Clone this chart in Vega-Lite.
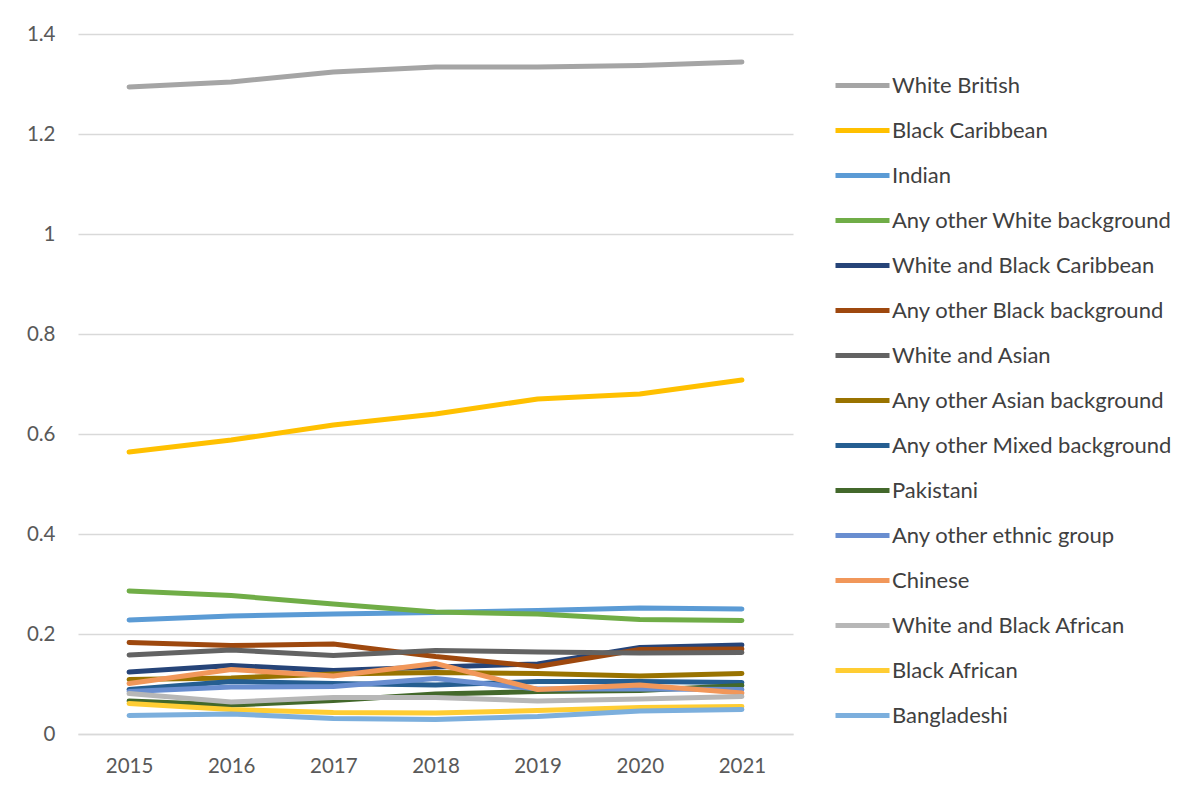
{
  "$schema": "https://vega.github.io/schema/vega-lite/v6.json",
  "autosize": "none",
  "width": 715,
  "height": 700,
  "padding": {"left": 78, "top": 34, "right": 404, "bottom": 58},
  "background": "white",
  "config": {
    "view": {"stroke": null},
    "font": "Lato",
    "axis": {"labelFont": "Lato", "labelColor": "#595959", "labelFontSize": 20.5, "ticks": false, "title": null}
  },
  "data": {"values": [
    {"s": "White British", "year": "2015", "v": 1.294},
    {"s": "White British", "year": "2016", "v": 1.304},
    {"s": "White British", "year": "2017", "v": 1.324},
    {"s": "White British", "year": "2018", "v": 1.334},
    {"s": "White British", "year": "2019", "v": 1.334},
    {"s": "White British", "year": "2020", "v": 1.337},
    {"s": "White British", "year": "2021", "v": 1.344},
    {"s": "Black Caribbean", "year": "2015", "v": 0.564},
    {"s": "Black Caribbean", "year": "2016", "v": 0.588},
    {"s": "Black Caribbean", "year": "2017", "v": 0.618},
    {"s": "Black Caribbean", "year": "2018", "v": 0.640},
    {"s": "Black Caribbean", "year": "2019", "v": 0.670},
    {"s": "Black Caribbean", "year": "2020", "v": 0.680},
    {"s": "Black Caribbean", "year": "2021", "v": 0.708},
    {"s": "Indian", "year": "2015", "v": 0.228},
    {"s": "Indian", "year": "2016", "v": 0.236},
    {"s": "Indian", "year": "2017", "v": 0.240},
    {"s": "Indian", "year": "2018", "v": 0.243},
    {"s": "Indian", "year": "2019", "v": 0.247},
    {"s": "Indian", "year": "2020", "v": 0.252},
    {"s": "Indian", "year": "2021", "v": 0.250},
    {"s": "Any other White background", "year": "2015", "v": 0.286},
    {"s": "Any other White background", "year": "2016", "v": 0.277},
    {"s": "Any other White background", "year": "2017", "v": 0.260},
    {"s": "Any other White background", "year": "2018", "v": 0.244},
    {"s": "Any other White background", "year": "2019", "v": 0.240},
    {"s": "Any other White background", "year": "2020", "v": 0.229},
    {"s": "Any other White background", "year": "2021", "v": 0.227},
    {"s": "White and Black Caribbean", "year": "2015", "v": 0.124},
    {"s": "White and Black Caribbean", "year": "2016", "v": 0.137},
    {"s": "White and Black Caribbean", "year": "2017", "v": 0.127},
    {"s": "White and Black Caribbean", "year": "2018", "v": 0.134},
    {"s": "White and Black Caribbean", "year": "2019", "v": 0.140},
    {"s": "White and Black Caribbean", "year": "2020", "v": 0.173},
    {"s": "White and Black Caribbean", "year": "2021", "v": 0.178},
    {"s": "Any other Black background", "year": "2015", "v": 0.183},
    {"s": "Any other Black background", "year": "2016", "v": 0.177},
    {"s": "Any other Black background", "year": "2017", "v": 0.180},
    {"s": "Any other Black background", "year": "2018", "v": 0.155},
    {"s": "Any other Black background", "year": "2019", "v": 0.135},
    {"s": "Any other Black background", "year": "2020", "v": 0.169},
    {"s": "Any other Black background", "year": "2021", "v": 0.170},
    {"s": "White and Asian", "year": "2015", "v": 0.158},
    {"s": "White and Asian", "year": "2016", "v": 0.168},
    {"s": "White and Asian", "year": "2017", "v": 0.157},
    {"s": "White and Asian", "year": "2018", "v": 0.167},
    {"s": "White and Asian", "year": "2019", "v": 0.164},
    {"s": "White and Asian", "year": "2020", "v": 0.162},
    {"s": "White and Asian", "year": "2021", "v": 0.163},
    {"s": "Any other Asian background", "year": "2015", "v": 0.109},
    {"s": "Any other Asian background", "year": "2016", "v": 0.112},
    {"s": "Any other Asian background", "year": "2017", "v": 0.120},
    {"s": "Any other Asian background", "year": "2018", "v": 0.123},
    {"s": "Any other Asian background", "year": "2019", "v": 0.121},
    {"s": "Any other Asian background", "year": "2020", "v": 0.116},
    {"s": "Any other Asian background", "year": "2021", "v": 0.121},
    {"s": "Any other Mixed background", "year": "2015", "v": 0.089},
    {"s": "Any other Mixed background", "year": "2016", "v": 0.105},
    {"s": "Any other Mixed background", "year": "2017", "v": 0.101},
    {"s": "Any other Mixed background", "year": "2018", "v": 0.098},
    {"s": "Any other Mixed background", "year": "2019", "v": 0.105},
    {"s": "Any other Mixed background", "year": "2020", "v": 0.105},
    {"s": "Any other Mixed background", "year": "2021", "v": 0.103},
    {"s": "Pakistani", "year": "2015", "v": 0.066},
    {"s": "Pakistani", "year": "2016", "v": 0.058},
    {"s": "Pakistani", "year": "2017", "v": 0.067},
    {"s": "Pakistani", "year": "2018", "v": 0.080},
    {"s": "Pakistani", "year": "2019", "v": 0.085},
    {"s": "Pakistani", "year": "2020", "v": 0.087},
    {"s": "Pakistani", "year": "2021", "v": 0.097},
    {"s": "Any other ethnic group", "year": "2015", "v": 0.085},
    {"s": "Any other ethnic group", "year": "2016", "v": 0.094},
    {"s": "Any other ethnic group", "year": "2017", "v": 0.095},
    {"s": "Any other ethnic group", "year": "2018", "v": 0.111},
    {"s": "Any other ethnic group", "year": "2019", "v": 0.090},
    {"s": "Any other ethnic group", "year": "2020", "v": 0.090},
    {"s": "Any other ethnic group", "year": "2021", "v": 0.089},
    {"s": "Chinese", "year": "2015", "v": 0.101},
    {"s": "Chinese", "year": "2016", "v": 0.129},
    {"s": "Chinese", "year": "2017", "v": 0.116},
    {"s": "Chinese", "year": "2018", "v": 0.141},
    {"s": "Chinese", "year": "2019", "v": 0.089},
    {"s": "Chinese", "year": "2020", "v": 0.098},
    {"s": "Chinese", "year": "2021", "v": 0.082},
    {"s": "White and Black African", "year": "2015", "v": 0.081},
    {"s": "White and Black African", "year": "2016", "v": 0.064},
    {"s": "White and Black African", "year": "2017", "v": 0.073},
    {"s": "White and Black African", "year": "2018", "v": 0.073},
    {"s": "White and Black African", "year": "2019", "v": 0.066},
    {"s": "White and Black African", "year": "2020", "v": 0.070},
    {"s": "White and Black African", "year": "2021", "v": 0.075},
    {"s": "Black African", "year": "2015", "v": 0.061},
    {"s": "Black African", "year": "2016", "v": 0.049},
    {"s": "Black African", "year": "2017", "v": 0.043},
    {"s": "Black African", "year": "2018", "v": 0.042},
    {"s": "Black African", "year": "2019", "v": 0.047},
    {"s": "Black African", "year": "2020", "v": 0.053},
    {"s": "Black African", "year": "2021", "v": 0.055},
    {"s": "Bangladeshi", "year": "2015", "v": 0.037},
    {"s": "Bangladeshi", "year": "2016", "v": 0.040},
    {"s": "Bangladeshi", "year": "2017", "v": 0.031},
    {"s": "Bangladeshi", "year": "2018", "v": 0.029},
    {"s": "Bangladeshi", "year": "2019", "v": 0.035},
    {"s": "Bangladeshi", "year": "2020", "v": 0.046},
    {"s": "Bangladeshi", "year": "2021", "v": 0.049}
  ]},
  "mark": {"type": "line", "strokeWidth": 5, "strokeCap": "round", "strokeJoin": "round"},
  "encoding": {
    "x": {
      "field": "year", "type": "ordinal",
      "scale": {"type": "point", "padding": 0.5},
      "axis": {"labelAngle": 0, "labelPadding": 22, "domainColor": "#D9D9D9", "domainWidth": 1.5, "grid": false}
    },
    "y": {
      "field": "v", "type": "quantitative",
      "scale": {"domain": [0, 1.4], "nice": false},
      "axis": {"values": [0, 0.2, 0.4, 0.6, 0.8, 1, 1.2, 1.4], "format": ".1~f", "domain": false, "gridColor": "#D9D9D9", "gridWidth": 1.5, "labelPadding": 23}
    },
    "color": {
      "field": "s", "type": "nominal",
      "scale": {
        "domain": ["White British", "Black Caribbean", "Indian", "Any other White background", "White and Black Caribbean", "Any other Black background", "White and Asian", "Any other Asian background", "Any other Mixed background", "Pakistani", "Any other ethnic group", "Chinese", "White and Black African", "Black African", "Bangladeshi"],
        "range": ["#A5A5A5", "#FFC000", "#5B9BD5", "#70AD47", "#264478", "#9E480E", "#636363", "#997300", "#255E91", "#43682B", "#698ED0", "#F1975A", "#B7B7B7", "#FFCD33", "#7CAFDD"]
      },
      "legend": {
        "title": null, "orient": "none", "legendX": 755, "legendY": 22,
        "symbolType": "stroke", "symbolSize": 2916, "symbolStrokeWidth": 5,
        "labelFont": "Lato", "labelFontSize": 22, "labelColor": "#404040",
        "labelOffset": 0, "rowPadding": 4, "labelLimit": 400
      }
    }
  }
}
